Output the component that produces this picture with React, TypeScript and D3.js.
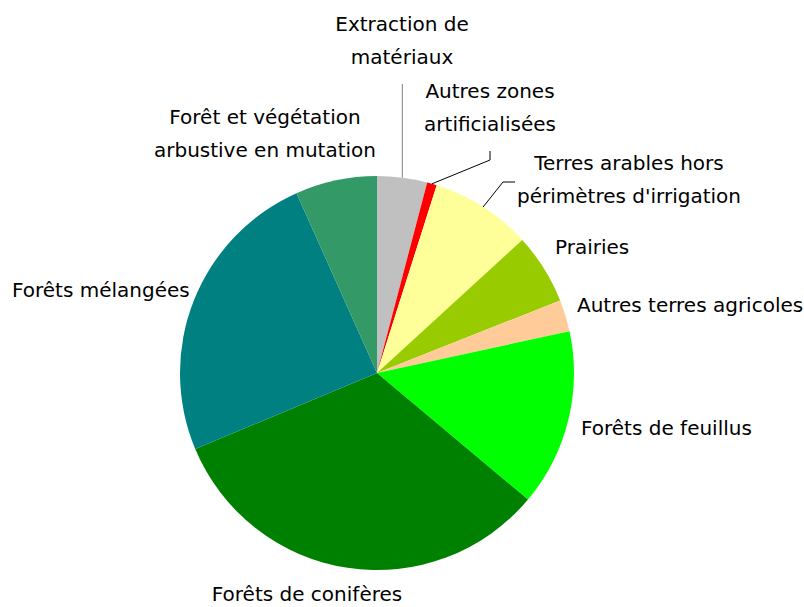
import React, { useRef, useEffect } from 'react';
import * as d3 from 'd3';

// slice shares (%) clockwise from 12 o'clock
const categories = [
  'Extraction de matériaux',
  'Autres zones artificialisées',
  "Terres arables hors périmètres d'irrigation",
  'Prairies',
  'Autres terres agricoles',
  'Forêts de feuillus',
  'Forêts de conifères',
  'Forêts mélangées',
  'Forêt et végétation arbustive en mutation',
];
const values = [4.1, 0.8, 8.3, 5.8, 2.6, 14.5, 32.6, 24.6, 6.7];
const colors = ['#C0C0C0', '#FF0000', '#FFFF99', '#99CC00', '#FFCC99', '#00FF00', '#008000', '#008080', '#339966'];
// label lines as drawn in the chart
const labelLines = [
  ['Extraction de', 'matériaux'],
  ['Autres zones', 'artificialisées'],
  ['Terres arables hors', "périmètres d'irrigation"],
  ['Prairies'],
  ['Autres terres agricoles'],
  ['Forêts de feuillus'],
  ['Forêts de conifères'],
  ['Forêts mélangées'],
  ['Forêt et végétation', 'arbustive en mutation'],
];

const W = 804;
const H = 607;
const cx = 377;
const cy = 373;
const R = 197;

// label placement: [x, y of first baseline, anchor]
const labelPos: [number, number, string][] = [
  [402, 31, 'middle'],
  [490, 98, 'middle'],
  [629, 170, 'middle'],
  [555, 254, 'start'],
  [577, 312, 'start'],
  [581, 435, 'start'],
  [307, 601, 'middle'],
  [12, 297, 'start'],
  [265, 124, 'middle'],
];
const lineGap = 33;

const App = () => {
  const svgRef = useRef<SVGSVGElement>(null);

  useEffect(() => {
    const svg = d3.select(svgRef.current);
    svg.selectAll('*').remove();

    const pie = d3.pie<number>().sort(null).value((d) => d);
    const arcs = pie(values);
    const arc = d3.arc<d3.PieArcDatum<number>>().innerRadius(0).outerRadius(R);

    const g = svg.append('g').attr('transform', `translate(${cx},${cy})`);
    g.selectAll('path.slice')
      .data(arcs)
      .join('path')
      .attr('class', 'slice')
      .attr('d', arc)
      .attr('fill', (d, i) => colors[i]);

    // leader lines for the three small top slices
    const edge = (d: d3.PieArcDatum<number>) => {
      const a = (d.startAngle + d.endAngle) / 2;
      return [cx + R * Math.sin(a), cy - R * Math.cos(a)];
    };
    const p0 = edge(arcs[0]);
    const p1 = edge(arcs[1]);
    const p2 = edge(arcs[2]);
    const leaders = [
      { pts: [p0, [p0[0], 84]], color: '#7f7f7f' },
      { pts: [p1, [490, 160], [490, 151]], color: '#000' },
      { pts: [p2, [503, 182], [515, 182]], color: '#000' },
    ];
    svg.append('g')
      .selectAll('path')
      .data(leaders)
      .join('path')
      .attr('d', (d) => d3.line()(d.pts as [number, number][]))
      .attr('fill', 'none')
      .attr('stroke', (d) => d.color)
      .attr('stroke-width', 1);

    const labels = svg.append('g')
      .style('font-family', 'Tahoma, "DejaVu Sans", sans-serif')
      .style('font-size', '20px')
      .attr('fill', '#000');
    labelLines.forEach((lines, i) => {
      const [x, y, anchor] = labelPos[i];
      const t = labels.append('text').attr('text-anchor', anchor);
      lines.forEach((l, j) => {
        t.append('tspan').attr('x', x).attr('y', y + j * lineGap).text(l);
      });
    });
  }, []);

  return <svg ref={svgRef} width={W} height={H} style={{ position: 'absolute', left: 0, top: 0 }} />;
};

export default App;
